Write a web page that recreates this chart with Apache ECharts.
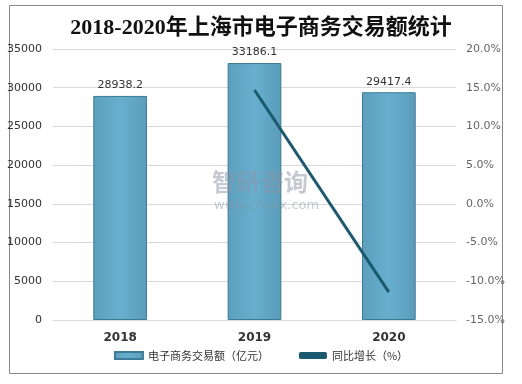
<!DOCTYPE html>
<html><head><meta charset="utf-8">
<script src="https://cdn.jsdelivr.net/npm/echarts@6/dist/echarts.min.js"></script>
<style>html,body{margin:0;padding:0;background:#fff}#c{width:522px;height:384px}</style>
</head><body><div id="c"></div>
<script>
const categories = ['2018', '2019', '2020'];
const tradeValues = [28938.2, 33186.1, 29417.4];
const growthValues = [null, 14.7, -11.4];
const leftTicks = [0, 5000, 10000, 15000, 20000, 25000, 30000, 35000];
const rightTicks = [-15, -10, -5, 0, 5, 10, 15, 20];

const chart = echarts.init(document.getElementById('c'));
chart.setOption({
  animation: false,
  backgroundColor: '#fff',
  title: {
    text: '2018-2020年上海市电子商务交易额统计',
    left: 'center', top: 12,
    textStyle: { fontFamily: '"Liberation Serif","Noto Sans CJK SC",serif', fontWeight: 'bold', fontSize: 22, color: '#111' }
  },
  graphic: [
    { type: 'rect', shape: { x: 9.5, y: 5.5, width: 493, height: 368 }, style: { fill: 'none', stroke: '#888', lineWidth: 1 }, z: -1 },
    { type: 'text', left: 212, top: 170, style: { text: '智研咨询', fill: 'rgba(140,150,165,0.5)', font: 'bold 24px "Noto Sans CJK SC"' }, z: 100 },
    { type: 'text', left: 214, top: 199, style: { text: 'www.chyxx.com', fill: 'rgba(140,150,165,0.5)', font: '13px "DejaVu Sans"' }, z: 100 }
  ],
  grid: { left: 53, right: 66, top: 49, bottom: 64 },
  legend: {
    bottom: 18, left: 'center', itemGap: 30, itemWidth: 28, itemHeight: 7,
    textStyle: { fontSize: 11, color: '#333', fontFamily: '"Noto Sans CJK SC"' },
    data: [
      { name: '电子商务交易额（亿元）', icon: 'rect' },
      { name: '同比增长（%）', icon: 'roundRect', itemStyle: { color: '#1b5a6e' } }
    ]
  },
  xAxis: {
    type: 'category', data: categories,
    axisLine: { lineStyle: { color: '#d9d9d9' } }, axisTick: { show: false },
    axisLabel: { fontWeight: 'bold', fontSize: 12, color: '#333', margin: 12, fontFamily: '"DejaVu Sans"' }
  },
  yAxis: [
    { type: 'value', min: 0, max: 35000, interval: 5000,
      axisLine: { show: false }, axisTick: { show: false },
      axisLabel: { fontSize: 11, color: '#333', margin: 11, fontFamily: '"DejaVu Sans"', formatter: v => String(v) },
      splitLine: { lineStyle: { color: '#d9d9d9' } } },
    { type: 'value', min: -15, max: 20, interval: 5,
      axisLine: { show: false }, axisTick: { show: false },
      axisLabel: { fontSize: 11, color: '#666', margin: 10, fontFamily: '"DejaVu Sans"', formatter: v => v.toFixed(1) + '%' },
      splitLine: { show: false } }
  ],
  series: [
    { name: '电子商务交易额（亿元）', type: 'bar', data: tradeValues, barWidth: '40%',
      itemStyle: { color: new echarts.graphic.LinearGradient(0,0,1,0,[{offset:0,color:'#5c9fbd'},{offset:0.5,color:'#68afcf'},{offset:1,color:'#5a9cba'}]), borderColor: '#3d7a95', borderWidth: 1 },
      label: { show: true, position: 'top', fontSize: 11, color: '#333', fontFamily: '"DejaVu Sans"', formatter: p => p.value.toFixed(1) } },
    { name: '同比增长（%）', type: 'line', yAxisIndex: 1, data: growthValues, showSymbol: false, symbol: 'none',
      lineStyle: { color: '#1b5a6e', width: 3 }, itemStyle: { color: '#1b5a6e' }, z: 5 }
  ]
});
</script></body></html>
